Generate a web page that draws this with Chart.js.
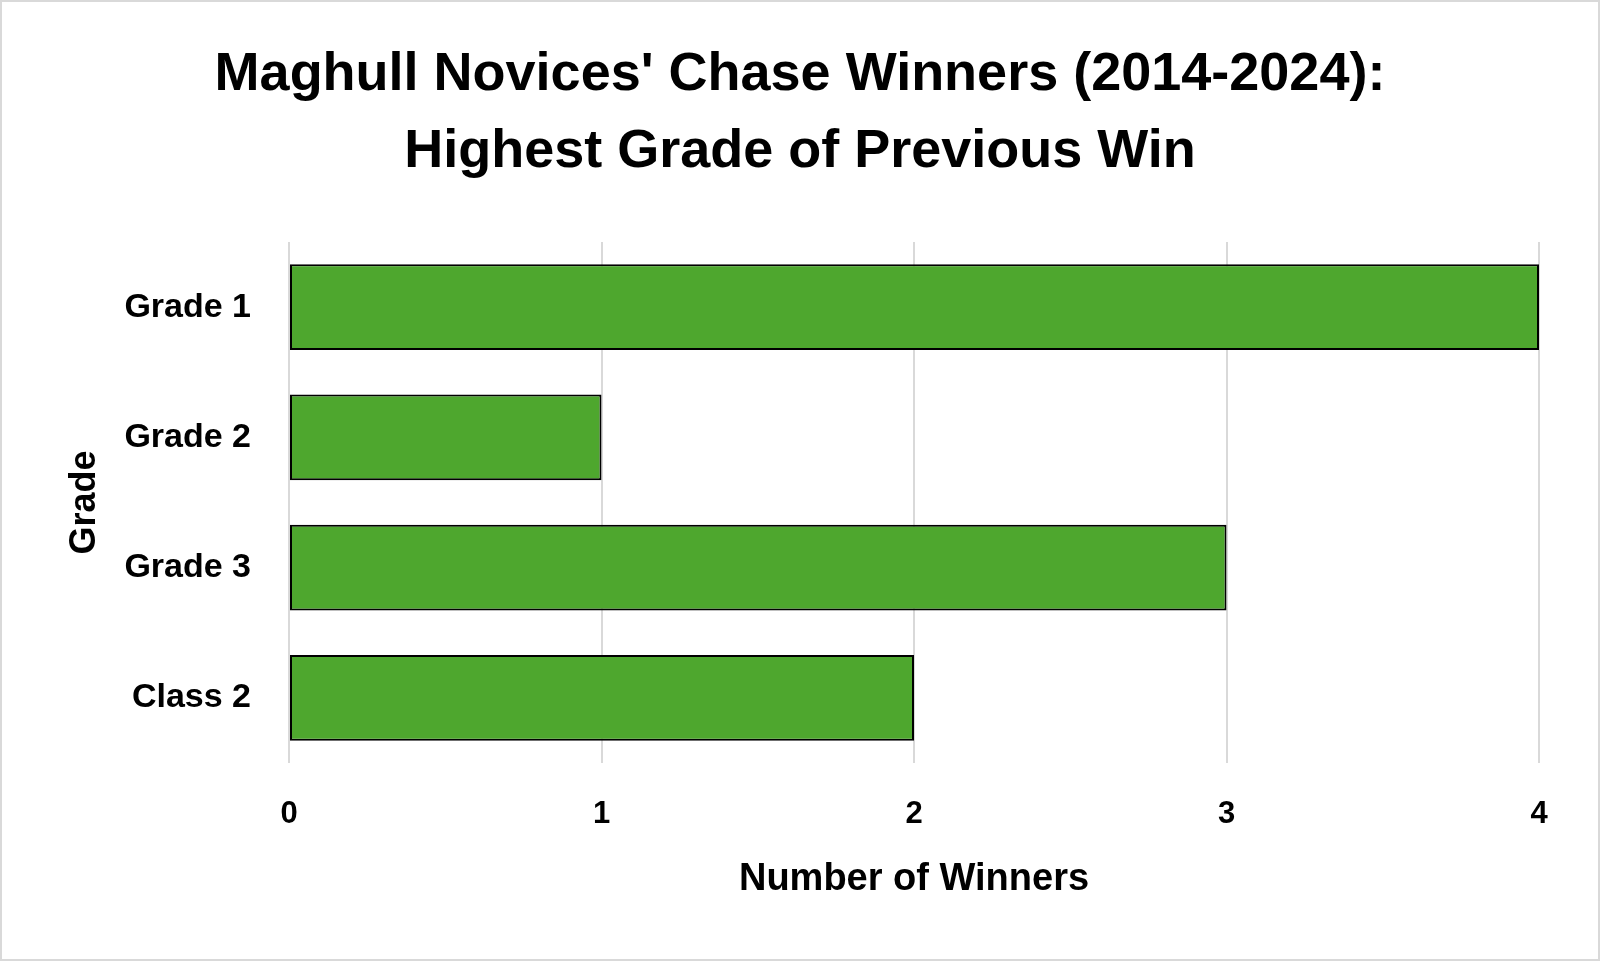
<!DOCTYPE html>
<html>
<head>
<meta charset="utf-8">
<title>Maghull Novices' Chase Winners</title>
<script src="https://cdn.jsdelivr.net/npm/chart.js@4.4.1/dist/chart.umd.min.js"></script>
<style>
    html, body { margin: 0; padding: 0; background: #fff; }
    canvas { display: block; }
</style>
</head>
<body>
<canvas id="gradeChart" width="1600" height="961"></canvas>
<script>
// Chart data
const grades = ['Grade 1', 'Grade 2', 'Grade 3', 'Class 2'];
const winners = [4, 1, 3, 2];
const titleLines = ["Maghull Novices' Chase Winners (2014-2024):", 'Highest Grade of Previous Win'];

const barGreen = '#4ea72e';
const gridGrey = '#d9d9d9';
const textFont = '"Liberation Sans", Arial, sans-serif';

// White background and thin grey frame round the picture
const framePlugin = {
    id: 'frame',
    beforeDraw(chart) {
        const ctx = chart.ctx;
        ctx.save();
        ctx.fillStyle = '#fff';
        ctx.fillRect(0, 0, chart.width, chart.height);
        ctx.restore();
    },
    afterDraw(chart) {
        const ctx = chart.ctx;
        ctx.save();
        ctx.strokeStyle = gridGrey;
        ctx.lineWidth = 2;
        ctx.strokeRect(1, 1, chart.width - 2, chart.height - 2);
        ctx.restore();
    }
};

const ctx = document.getElementById('gradeChart');

new Chart(ctx, {
    type: 'bar',
    data: {
        labels: grades,
        datasets: [{
            label: 'Number of Winners',
            data: winners,
            backgroundColor: barGreen,
            borderColor: '#000',
            borderWidth: 2,
            borderSkipped: false,
            barPercentage: 0.66,
            categoryPercentage: 1
        }]
    },
    options: {
        indexAxis: 'y',
        responsive: false,
        animation: false,
        devicePixelRatio: 1,
        // equal side padding keeps the title centred on the page
        layout: {
            padding: { left: 61, right: 61, top: 0, bottom: 0 }
        },
        plugins: {
            legend: { display: false },
            tooltip: { enabled: false },
            title: {
                display: true,
                text: titleLines,
                color: '#000',
                font: {
                    family: textFont,
                    size: 54,
                    weight: 'bold',
                    lineHeight: 1.426
                },
                padding: { top: 37, bottom: 51 }
            }
        },
        scales: {
            x: {
                min: 0,
                max: 4,
                afterFit(scale) {
                    scale.height = 198;
                },
                grid: {
                    color: gridGrey,
                    lineWidth: 2,
                    drawTicks: false
                },
                border: { display: false },
                ticks: {
                    stepSize: 1,
                    color: '#000',
                    padding: 33,
                    font: { family: textFont, size: 31, weight: 'bold' }
                },
                title: {
                    display: true,
                    text: 'Number of Winners',
                    color: '#000',
                    font: { family: textFont, size: 38, weight: 'bold' },
                    padding: { top: 0, bottom: 59 }
                }
            },
            y: {
                afterFit(scale) {
                    scale.width = 228;
                },
                grid: { display: false, drawTicks: false },
                border: { display: false },
                ticks: {
                    color: '#000',
                    padding: 38,
                    font: { family: textFont, size: 34, weight: 'bold' }
                },
                title: {
                    display: true,
                    text: 'Grade',
                    color: '#000',
                    font: { family: textFont, size: 36, weight: 'bold' },
                    padding: { top: 2, bottom: 0 }
                }
            }
        }
    },
    plugins: [framePlugin]
});
</script>
</body>
</html>
